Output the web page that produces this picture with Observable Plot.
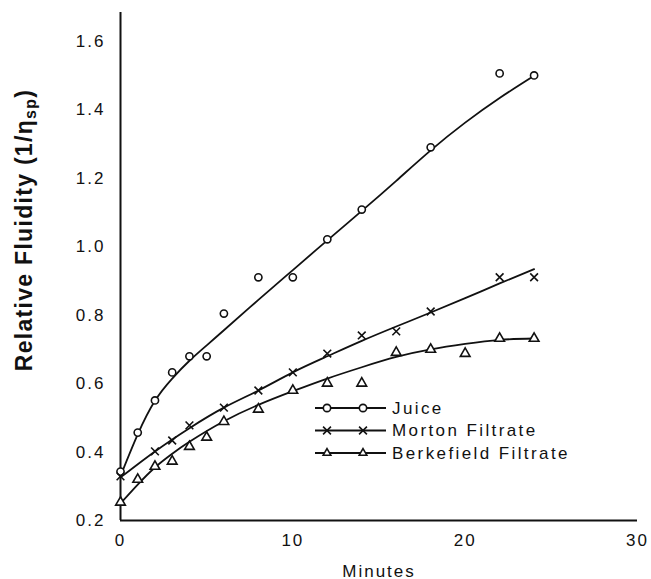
<!DOCTYPE html>
<html><head><meta charset="utf-8">
<script src="https://cdn.jsdelivr.net/npm/d3@7"></script>
<script src="https://cdn.jsdelivr.net/npm/@observablehq/plot@0.6"></script>
<style>body{margin:0;background:#fff} #chart svg{display:block}</style>
</head><body><div id="chart"></div><script>
// ---- data ----
const seriesNames = ["Juice", "Morton Filtrate", "Berkefield Filtrate"];
const seriesSymbols = ["circle", "times", "triangle"];

const juiceMin = [0, 1, 2, 3, 4, 5, 6, 8, 10, 12, 14, 18, 22, 24];
const juiceVal = [0.343, 0.457, 0.551, 0.633, 0.680, 0.680, 0.805, 0.911, 0.911, 1.022, 1.109, 1.291, 1.507, 1.501];

const mortonMin = [0, 2, 3, 4, 6, 8, 10, 12, 14, 16, 18, 22, 24];
const mortonVal = [0.329, 0.402, 0.434, 0.478, 0.530, 0.580, 0.633, 0.688, 0.741, 0.753, 0.811, 0.911, 0.911];

const berkMin = [0, 1, 2, 3, 4, 5, 6, 8, 10, 12, 14, 16, 18, 20, 22, 24];
const berkVal = [0.253, 0.320, 0.358, 0.373, 0.416, 0.443, 0.489, 0.525, 0.580, 0.601, 0.601, 0.691, 0.700, 0.688, 0.732, 0.732];

// fitted (hand-drawn) curves
const juiceFitMin = [0, 1, 2, 3, 4, 5, 6, 8, 10, 12, 14, 16, 18, 20, 22, 24];
const juiceFitVal = [0.33, 0.452, 0.55, 0.615, 0.667, 0.712, 0.756, 0.845, 0.932, 1.019, 1.105, 1.193, 1.282, 1.363, 1.435, 1.50];
const mortonFitMin = [0, 2, 4, 6, 8, 10, 12, 14, 16, 18, 20, 22, 24];
const mortonFitVal = [0.326, 0.402, 0.47, 0.53, 0.58, 0.633, 0.68, 0.725, 0.767, 0.808, 0.85, 0.893, 0.935];
const berkFitMin = [0, 1, 2, 3, 4, 6, 8, 10, 12, 14, 16, 18, 20, 22, 24];
const berkFitVal = [0.25, 0.305, 0.355, 0.395, 0.43, 0.49, 0.538, 0.578, 0.615, 0.648, 0.678, 0.70, 0.716, 0.728, 0.732];

const xTicks = [0, 10, 20, 30];
const yTicks = [0.2, 0.4, 0.6, 0.8, 1.0, 1.2, 1.4, 1.6];

// ---- build tables ----
const pts = [
  ...juiceMin.map((m, i) => ({s: seriesNames[0], x: m, y: juiceVal[i]})),
  ...mortonMin.map((m, i) => ({s: seriesNames[1], x: m, y: mortonVal[i]})),
  ...berkMin.map((m, i) => ({s: seriesNames[2], x: m, y: berkVal[i]}))
];
const fits = [
  ...juiceFitMin.map((m, i) => ({s: seriesNames[0], x: m, y: juiceFitVal[i]})),
  ...mortonFitMin.map((m, i) => ({s: seriesNames[1], x: m, y: mortonFitVal[i]})),
  ...berkFitMin.map((m, i) => ({s: seriesNames[2], x: m, y: berkFitVal[i]}))
];

const FONT = "'Liberation Sans', Arial, sans-serif";

const chart = Plot.plot({
  width: 651,
  height: 579,
  marginLeft: 120,
  marginRight: 14,
  marginTop: 12,
  marginBottom: 59,
  style: {fontFamily: FONT, fontSize: "17px", color: "#111", background: "#fff", letterSpacing: "2px"},
  x: {domain: [0, 30]},
  y: {domain: [0.2, 1.685]},
  symbol: {domain: seriesNames, range: seriesSymbols},
  marks: [
    Plot.axisX({ticks: xTicks, tickSize: 0, tickPadding: 13, label: "Minutes", labelAnchor: "center", labelOffset: 56, labelArrow: "none", fontSize: 17}),
    Plot.axisY({ticks: yTicks, tickSize: 0, tickPadding: 15, tickFormat: d3.format(".1f"), label: null, fontSize: 17}),
    Plot.ruleX([0], {stroke: "#111", strokeWidth: 2}),
    Plot.ruleY([0.2], {stroke: "#111", strokeWidth: 2}),
    Plot.line(fits, {x: "x", y: "y", z: "s", curve: "natural", stroke: "#111", strokeWidth: 1.8}),
    Plot.dot(pts, {x: "x", y: "y", symbol: "s", r: 3.6, stroke: "#111", strokeWidth: 1.6, fill: "white"})
  ]
});
document.getElementById("chart").append(chart);

// ---- y-axis title with subscript, and legend ----
const svg = d3.select(chart);
const yt = svg.append("text")
  .attr("transform", "translate(32,230) rotate(-90)")
  .attr("text-anchor", "middle")
  .attr("font-family", FONT)
  .attr("font-weight", "bold")
  .attr("font-size", 23)
  .attr("letter-spacing", "1.3px")
  .attr("fill", "#111");
yt.append("tspan").text("Relative Fluidity (1/η");
yt.append("tspan").attr("dy", 4).attr("font-size", 16).text("sp");
yt.append("tspan").attr("dy", -4).text(")");

const sym = d3.symbol().size(42);
const symMap = {circle: d3.symbolCircle, times: d3.symbolTimes, triangle: d3.symbolTriangle2};
const leg = svg.append("g").attr("font-family", FONT).attr("font-size", 17)
  .attr("letter-spacing", "2.4px").attr("text-anchor", "start");
seriesNames.forEach((name, i) => {
  const yy = 408 + i * 22.5;
  leg.append("line").attr("x1", 315).attr("x2", 386).attr("y1", yy).attr("y2", yy)
    .attr("stroke", "#111").attr("stroke-width", 1.8);
  [327, 363].forEach(xx => {
    leg.append("path").attr("d", sym.type(symMap[seriesSymbols[i]])())
      .attr("transform", `translate(${xx},${yy})`)
      .attr("stroke", "#111").attr("stroke-width", 1.6).attr("fill", "white");
  });
  leg.append("text").attr("x", 392).attr("y", yy).attr("dy", "0.35em")
    .attr("text-anchor", "start").attr("fill", "#111").text(name);
});
</script></body></html>
